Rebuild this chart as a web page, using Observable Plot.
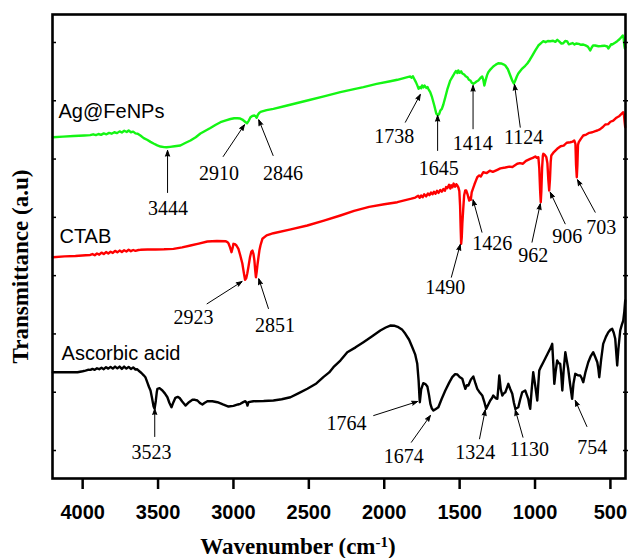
<!DOCTYPE html>
<html><head><meta charset="utf-8">
<script src="https://cdn.jsdelivr.net/npm/d3@7"></script>
<script src="https://cdn.jsdelivr.net/npm/@observablehq/plot@0.6"></script>
<style>html,body{margin:0;padding:0;background:#fff}svg{display:block}</style>
</head><body><div id="chart"></div>
<script>
// ---------- data (wavenumber cm-1, transmittance a.u. with offsets) ----------
const seriesNames = ["Ag@FeNPs", "CTAB", "Ascorbic acid"];
const seriesColors = ["#14f514", "#ff0000", "#000000"];

const greenW = [4198,4130,4060,3990,3950,3930,3912,3895,3878,3860,3842,3825,3808,3790,3772,3755,3740,3724,3708,3695,3680,3665,3650,3635,3617,3595,3570,3550,3530,3505,3484,3460,3444,3420,3390,3352,3320,3285,3250,3219,3186,3153,3120,3086,3050,3020,2995,2974,2955,2941,2925,2910,2898,2887,2875,2861,2853,2846,2838,2828,2815,2780,2735,2650,2510,2400,2291,2200,2138,2050,1960,1913,1870,1840,1827,1818,1810,1800,1790,1780,1772,1762,1755,1749,1740,1733,1728,1720,1713,1708,1695,1683,1668,1655,1645,1636,1628,1618,1608,1595,1580,1562,1548,1535,1525,1515,1509,1500,1490,1482,1470,1460,1449,1438,1429,1420,1409,1398,1388,1376,1362,1350,1343,1336,1328,1318,1310,1295,1277,1260,1244,1225,1210,1197,1180,1164,1150,1140,1131,1120,1111,1085,1065,1051,1035,1018,998,978,960,945,930,915,899,880,865,852,840,825,813,800,786,776,766,750,738,727,710,695,680,665,650,640,634,625,615,601,580,561,540,521,514,505,495,488,470,455,440,428,418,412,408,404,401];
const greenT = [53.75,53.85,53.95,54.05,54.10,54.25,54.10,54.30,54.15,54.40,54.25,54.50,54.35,54.60,54.45,54.75,54.55,54.85,54.65,54.90,54.60,54.70,54.40,54.35,54.04,53.60,53.27,52.95,52.67,52.35,52.15,52.05,52.03,52.10,52.20,52.32,52.75,53.18,53.75,54.38,54.85,55.33,55.85,56.32,56.65,56.87,57.00,57.01,56.95,56.78,56.45,56.15,56.60,57.18,57.40,57.47,57.35,57.10,57.60,57.95,58.15,58.40,58.62,59.15,60.04,60.75,61.47,62.00,62.33,62.90,63.35,63.60,63.90,64.10,64.16,63.95,64.20,63.70,63.20,62.60,62.05,62.35,62.15,62.62,62.30,62.60,62.45,62.20,62.35,62.05,61.50,60.61,59.19,57.81,57.55,57.70,58.33,58.60,59.36,60.61,62.10,63.48,64.10,64.68,65.10,64.75,65.20,64.80,65.05,64.68,64.50,64.20,64.04,63.60,63.48,63.10,62.91,63.10,63.30,63.48,63.90,64.16,63.60,62.62,63.50,64.40,64.90,65.40,65.88,66.20,66.44,66.40,66.25,66.05,65.40,64.33,63.40,62.95,63.48,64.20,64.68,65.53,66.00,66.39,67.00,67.76,68.65,69.48,69.90,70.22,70.05,70.25,70.22,70.30,70.10,70.46,70.20,69.80,69.87,70.25,70.17,69.70,69.77,69.90,69.65,69.82,69.75,69.60,69.65,69.50,69.30,68.90,68.62,69.10,69.50,69.48,69.35,69.39,69.45,69.31,68.97,69.30,69.70,69.65,69.95,70.22,70.55,70.90,71.20,70.70,69.48,68.97,69.20];

const redW = [4198,4120,4048,3980,3950,3935,3920,3905,3890,3875,3860,3845,3830,3815,3800,3785,3770,3755,3740,3725,3710,3695,3680,3665,3650,3630,3617,3570,3517,3460,3398,3340,3285,3230,3173,3110,3053,3040,3033,3022,3013,3006,3000,2990,2980,2967,2955,2941,2930,2923,2915,2908,2901,2890,2881,2874,2867,2861,2856,2851,2846,2840,2834,2828,2821,2808,2780,2735,2620,2510,2400,2291,2200,2100,2000,1913,1860,1820,1794,1775,1765,1755,1745,1735,1722,1710,1700,1690,1680,1670,1660,1650,1640,1628,1618,1608,1598,1590,1582,1570,1562,1555,1548,1540,1530,1522,1515,1508,1502,1497,1493,1490,1486,1482,1476,1470,1463,1456,1448,1440,1436,1430,1426,1420,1412,1402,1392,1383,1370,1360,1343,1320,1300,1280,1250,1230,1197,1170,1150,1118,1100,1080,1060,1032,1015,998,988,978,972,966,962,958,953,948,945,935,925,918,912,906,901,896,892,875,853,830,810,790,766,750,740,732,728,723,719,715,710,695,680,660,640,620,600,587,570,550,534,515,500,481,460,440,425,415,410,406,402];
const redT = [33.16,33.30,33.37,33.50,33.55,33.70,33.50,33.80,33.60,33.95,33.70,34.05,33.80,34.10,33.90,34.25,34.00,34.30,34.05,34.35,34.15,34.45,34.20,34.40,34.25,34.40,34.43,34.48,34.48,34.52,34.60,34.85,35.17,35.50,35.86,35.95,35.91,35.75,35.56,34.80,34.02,34.70,35.46,35.40,35.17,34.60,33.50,32.08,30.30,29.28,29.60,30.40,31.45,33.20,34.14,34.31,33.70,32.60,31.00,29.73,30.60,32.00,33.16,34.30,35.17,36.32,36.90,37.28,37.95,38.60,39.45,40.32,41.10,41.80,42.25,42.60,42.95,43.20,43.40,43.70,43.35,43.75,43.45,43.95,43.60,44.10,43.80,44.25,43.95,44.40,44.05,44.55,44.20,44.70,44.40,44.85,44.55,45.20,45.00,45.60,44.95,45.50,45.15,45.80,45.25,45.70,45.46,45.10,44.50,42.00,38.00,35.46,36.50,38.94,41.50,43.80,44.60,44.60,44.00,43.20,42.89,43.40,43.00,44.30,44.90,45.63,46.30,46.89,47.20,47.00,47.74,47.60,48.00,47.80,48.16,48.40,48.55,48.70,48.65,49.19,49.30,49.20,49.70,50.04,50.20,50.44,50.20,50.32,48.50,44.50,42.60,44.50,48.50,50.60,50.90,50.70,50.32,49.30,46.50,44.60,46.50,49.50,50.61,51.20,51.76,52.20,52.30,52.80,52.89,53.00,53.18,52.60,49.00,46.89,49.00,52.40,52.90,53.50,54.04,54.20,54.50,54.60,54.80,54.90,55.10,55.50,55.93,56.00,56.40,56.61,57.10,57.40,57.80,58.04,57.50,56.40,55.46];

const blackW = [4198,4120,4034,4000,3981,3965,3948,3935,3920,3905,3890,3875,3860,3845,3830,3815,3800,3785,3770,3755,3740,3725,3710,3695,3680,3665,3650,3638,3630,3610,3595,3584,3570,3560,3550,3540,3530,3523,3515,3508,3504,3490,3471,3455,3438,3425,3411,3398,3385,3370,3358,3340,3318,3295,3272,3255,3239,3220,3206,3190,3173,3140,3106,3070,3033,3000,2970,2954,2935,2921,2913,2907,2900,2868,2800,2735,2680,2622,2570,2510,2450,2404,2365,2337,2291,2245,2190,2138,2080,2026,1990,1960,1930,1906,1880,1860,1835,1814,1795,1781,1772,1766,1764,1755,1741,1727,1714,1703,1694,1684,1674,1660,1641,1620,1595,1570,1549,1530,1515,1500,1482,1470,1462,1452,1442,1425,1409,1395,1383,1365,1350,1337,1324,1310,1297,1285,1277,1262,1250,1243,1237,1227,1217,1207,1197,1187,1177,1165,1151,1140,1130,1120,1111,1098,1085,1065,1055,1045,1038,1032,1022,1012,998,985,978,972,960,945,915,895,886,879,872,863,853,843,833,826,819,810,799,790,780,768,754,745,733,716,700,690,680,665,647,630,614,600,587,580,574,562,548,530,514,500,488,478,468,462,455,447,435,425,415,408,402];
const blackT = [13.43,13.43,13.43,13.60,13.72,13.85,13.84,14.00,13.85,14.10,13.95,14.20,13.95,14.30,14.05,14.35,14.05,14.40,14.10,14.40,14.00,14.40,14.05,14.35,14.00,14.25,13.90,13.95,13.72,13.30,12.90,12.58,11.60,10.90,10.29,9.00,7.60,7.15,8.50,10.10,10.59,10.70,10.29,9.80,9.14,8.20,7.43,8.30,9.04,9.20,9.04,8.40,7.72,8.30,8.70,8.70,8.58,8.10,7.89,8.20,8.46,8.45,8.29,7.90,7.55,7.65,7.90,8.01,8.30,8.46,8.20,7.72,8.30,8.46,8.50,8.58,8.80,9.14,9.80,10.59,11.50,12.58,13.40,14.29,15.44,16.86,17.70,18.58,19.60,20.59,21.10,21.44,21.40,21.15,20.70,20.02,19.00,17.72,16.50,14.87,12.00,9.00,8.29,10.50,11.55,11.40,10.98,9.50,8.01,7.20,6.86,7.10,7.43,8.80,10.29,11.60,12.58,13.10,13.04,12.60,12.30,11.20,10.58,11.20,11.15,12.20,12.70,11.50,10.58,9.90,9.44,8.40,7.15,7.90,8.58,9.00,9.44,9.00,8.87,10.80,12.87,10.50,9.44,9.80,10.00,10.70,11.44,10.60,9.73,8.20,7.15,7.30,7.43,8.80,10.00,10.29,9.60,8.87,7.80,7.15,10.50,13.43,11.00,8.58,11.50,13.72,14.40,15.15,16.70,17.70,18.30,15.00,11.44,13.60,15.44,15.00,14.87,13.00,10.29,13.80,16.86,15.50,14.02,11.50,8.87,11.50,13.16,12.90,12.87,12.40,11.72,13.50,15.15,16.20,16.86,16.00,15.15,14.00,12.58,15.50,18.30,19.50,20.30,20.70,20.88,20.20,19.16,17.00,14.58,17.50,20.59,21.50,22.30,23.80,25.73];

// series name labels (left)
const nameW = [4160, 4154, 4140];
const nameT = [57.13, 35.68, 15.61];

// peak annotations: label, label position, arrow tail -> arrow head
const peakLabel = ["3444","2910","2846","1738","1645","1414","1124","2923","2851","1490","1426","962","906","703","3523","1764","1674","1324","1130","754"];
const peakLabelW = [3434,3096,2672,1933,1638,1413,1075,3265,2725,1595,1283,1012,786,561,3544,2251,1870,1396,1038,620];
const peakLabelT = [40.32,46.49,46.49,52.72,47.35,51.47,52.50,21.79,20.29,26.93,34.48,32.42,35.56,37.23,-1.37,3.60,-2.18,-1.37,-0.86,-0.57];
const tailW = [3437,3068,2737,1860,1646,1411,1098,3175,2768,1555,1352,1020,800,601,3522,2070,1820,1368,1080,656];
const tailT = [44.26,50.44,50.61,56.32,51.47,55.19,55.46,25.17,24.36,29.73,37.45,35.74,38.89,40.88,2.40,6.00,1.42,2.01,2.28,4.12];
const headW = [3437,2927,2832,1761,1646,1411,1136,2943,2832,1496,1411,965,899,718,3522,1779,1694,1330,1131,733];
const headT = [51.47,55.88,56.73,61.07,57.47,62.62,62.79,28.99,29.46,35.34,43.01,42.32,44.31,46.44,7.15,8.41,6.00,6.98,6.98,8.58];

const xTicks = [4000,3500,3000,2500,2000,1500,1000,500];
const yTicks = [0,10,20,30,40,50,60,70];
const xTitle = "Wavenumber (cm-1)";
const yTitle = "Transmittance (a.u)";

// ---------- build ----------
const toRows = (W, T) => W.map((w, i) => ({w, t: T[i]}));
const series = [toRows(greenW, greenT), toRows(redW, redT), toRows(blackW, blackT)];
const peaks = peakLabel.map((s, i) => ({s, lw: peakLabelW[i], lt: peakLabelT[i], x1: tailW[i], y1: tailT[i], x2: headW[i], y2: headT[i]}));
const names = seriesNames.map((s, i) => ({s, w: nameW[i], t: nameT[i]}));

const serif = "'Liberation Serif','Times New Roman',serif";
const sans = "'Liberation Sans',Arial,sans-serif";

const chart = Plot.plot({
  width: 628, height: 558,
  marginLeft: 52, marginRight: 3, marginTop: 14, marginBottom: 80,
  style: {background: "#fff", color: "#000"},
  x: {domain: [4200, 400], label: null, axis: null},
  y: {domain: [-4.8, 74.8], label: null, axis: null},
  marks: [
    ...series.map((d, i) => Plot.line(d, {x: "w", y: "t", stroke: seriesColors[i], strokeWidth: 2.4, strokeLinejoin: "round"})),
    Plot.arrow(peaks, {x1: "x1", y1: "y1", x2: "x2", y2: "y2", stroke: "#000", fill: "#000", strokeWidth: 1, headLength: 9, headAngle: 40}),
    Plot.text(peaks, {x: "lw", y: "lt", text: "s", fontFamily: serif, fontSize: 20, lineAnchor: "bottom", textAnchor: "middle", fill: "#000"}),
    Plot.text(names, {x: "w", y: "t", text: "s", fontFamily: sans, fontSize: 20, lineAnchor: "bottom", textAnchor: "start", fill: "#000"}),
    Plot.tickY(yTicks, {y: d => d, insetRight: 569, strokeWidth: 1.5}),
    Plot.tickY(yTicks, {y: d => d, insetLeft: 571, insetRight: -3, strokeWidth: 1.5}),
    Plot.axisX(xTicks, {anchor: "bottom", tickSize: 11, tickPadding: 15, strokeWidth: 2.5, fontSize: 20, fontWeight: "bold", fontFamily: sans, label: null, tickFormat: d => String(d)}),
    Plot.frame({stroke: "#000", strokeWidth: 2.6}),
    Plot.text([xTitle], {frameAnchor: "bottom", dx: -41, dy: 75, text: d => d, fontFamily: serif, fontSize: 23, fontWeight: "bold", lineAnchor: "bottom", textAnchor: "middle"}),
    Plot.text([yTitle], {frameAnchor: "left", dx: -32, dy: 20, rotate: -90, text: d => d, fontFamily: serif, fontSize: 23, fontWeight: "bold", lineAnchor: "middle", textAnchor: "middle"})
  ]
});

// superscript for cm-1
d3.select(chart).selectAll("text").filter(function() { return this.textContent === xTitle; }).each(function() {
  const t = d3.select(this);
  t.text(null);
  t.append("tspan").text("Wavenumber (cm");
  t.append("tspan").attr("dy", "-0.45em").attr("font-size", 15).text("-1");
  t.append("tspan").attr("dy", "0.3em").text(")");
});
document.getElementById("chart").append(chart);
</script>
</body></html>
